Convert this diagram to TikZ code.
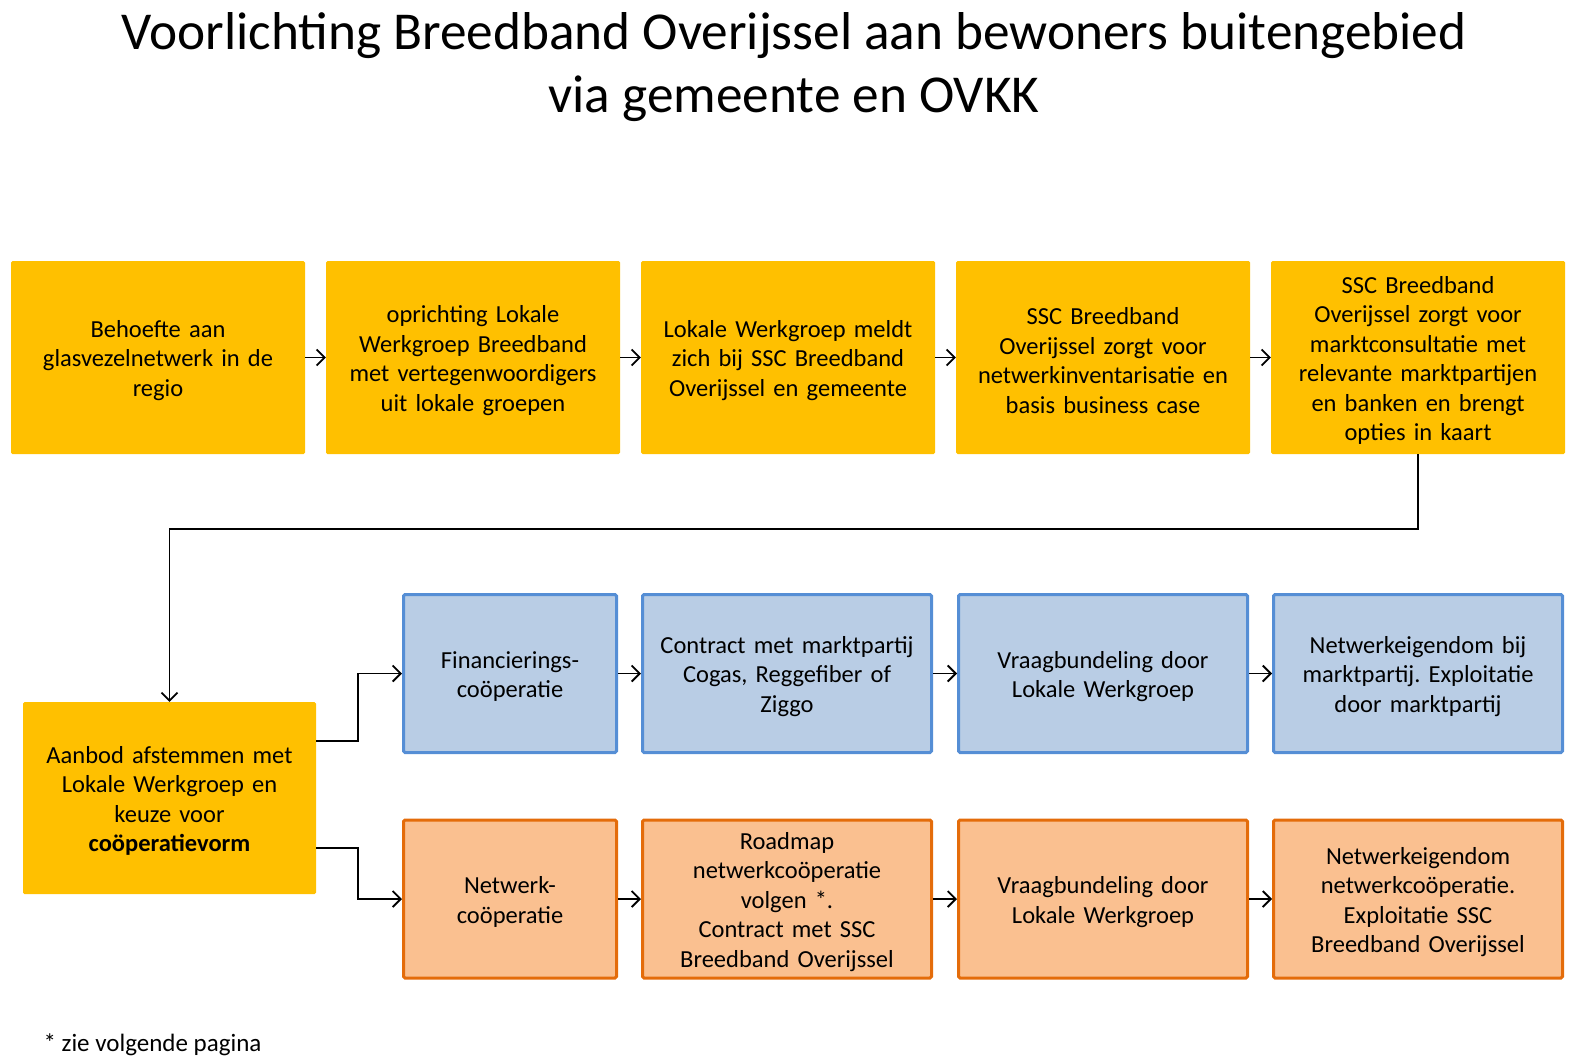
\documentclass[tikz,border=0pt]{standalone}
\usepackage{fontspec}
\setmainfont{Carlito}
\frenchspacing
\usetikzlibrary{positioning,arrows.meta,calc}
\definecolor{StepYellow}{RGB}{255,192,0}
\definecolor{FinBlueFill}{RGB}{185,205,229}
\definecolor{FinBlueLine}{RGB}{85,142,213}
\definecolor{NetOrangeFill}{RGB}{250,192,144}
\definecolor{NetOrangeLine}{RGB}{228,108,10}
\newcommand{\boxtail}{\endgraf\vspace*{-6pt}}

\begin{document}
\begin{tikzpicture}[x=1pt, y=-1pt,
  every node/.style={font=\fontsize{24.5}{29.5}\selectfont},
  stepbox/.style={fill=StepYellow, minimum width=294pt, minimum height=193pt,
    text width=286pt, align=center, inner sep=0pt, rounded corners=1.5pt,
    execute at end node=\boxtail},
  finbox/.style={fill=FinBlueFill, draw=FinBlueLine, line width=3pt,
    minimum width=289pt, minimum height=158pt, text width=281pt,
    align=center, inner sep=0pt, rounded corners=1.5pt,
    execute at end node=\boxtail},
  netbox/.style={finbox, fill=NetOrangeFill, draw=NetOrangeLine},
  flow/.style={line width=1.8pt, ->, >={Straight Barb[length=8pt,width=16pt]}}]
  \useasboundingbox (0,0) rectangle (1579,1063);

  % Title
  \node[font=\fontsize{53.3}{63}\selectfont, align=center] (title) at (794, 67)
    {Voorlichting Breedband Overijssel aan bewoners buitengebied\\via gemeente en OVKK};

  % Top row
  \node[stepbox] (s1) at (158, 357.5) {Behoefte aan\\glasvezelnetwerk in de\\regio};
  \node[stepbox] (s2) at (473, 357.5) {oprichting Lokale\\Werkgroep Breedband\\met vertegenwoordigers\\uit lokale groepen};
  \node[stepbox] (s3) at (788, 357.5) {Lokale Werkgroep meldt\\zich bij SSC Breedband\\Overijssel en gemeente};
  \node[stepbox] (s4) at (1103, 357.5) {SSC Breedband\\Overijssel zorgt voor\\netwerkinventarisatie en\\basis business case};
  \node[stepbox] (s5) at (1418, 357.5) {SSC Breedband\\Overijssel zorgt voor\\marktconsultatie met\\relevante marktpartijen\\en banken en brengt\\opties in kaart};

  % Choice
  \node[stepbox, minimum width=293pt, minimum height=192pt] (s6) at (169.5, 798)
    {Aanbod afstemmen met\\Lokale Werkgroep en\\keuze voor\\\textbf{coöperatievorm}};

  % Financieringscooperatie row
  \node[finbox, minimum width=213pt, text width=205pt] (f1) at (510, 673.5) {Financierings-\\coöperatie};
  \node[finbox] (f2) at (787, 673.5) {Contract met marktpartij\\Cogas, Reggefiber of\\Ziggo};
  \node[finbox] (f3) at (1103, 673.5) {Vraagbundeling door\\Lokale Werkgroep};
  \node[finbox] (f4) at (1418, 673.5) {Netwerkeigendom bij\\marktpartij. Exploitatie\\door marktpartij};

  % Netwerkcooperatie row
  \node[netbox, minimum width=213pt, text width=205pt] (n1) at (510, 899) {Netwerk-\\coöperatie};
  \node[netbox] (n2) at (787, 899) {Roadmap\\netwerkcoöperatie\\volgen *.\\Contract met SSC\\Breedband Overijssel};
  \node[netbox] (n3) at (1103, 899) {Vraagbundeling door\\Lokale Werkgroep};
  \node[netbox] (n4) at (1418, 899) {Netwerkeigendom\\netwerkcoöperatie.\\Exploitatie SSC\\Breedband Overijssel};

  % Footnote
  \node[anchor=west, font=\fontsize{25}{30}\selectfont] (note) at (40, 1045) {* zie volgende pagina};

  % Connectors
  \draw[flow] (s1) -- (s2);
  \draw[flow] (s2) -- (s3);
  \draw[flow] (s3) -- (s4);
  \draw[flow] (s4) -- (s5);
  \coordinate (turn) at (0, 529);
  \draw[flow] (s5.south) -- (s5.south |- turn) -- (s6.north |- turn) -- (s6.north);
  \draw[flow] ([yshift=57pt]s6.east) -- ++(42,0) |- (f1.west);
  \draw[flow] ([yshift=-50pt]s6.east) -- ++(42,0) |- (n1.west);
  \draw[flow] (f1) -- (f2);
  \draw[flow] (f2) -- (f3);
  \draw[flow] (f3) -- (f4);
  \draw[flow] (n1) -- (n2);
  \draw[flow] (n2) -- (n3);
  \draw[flow] (n3) -- (n4);
\end{tikzpicture}
\end{document}
